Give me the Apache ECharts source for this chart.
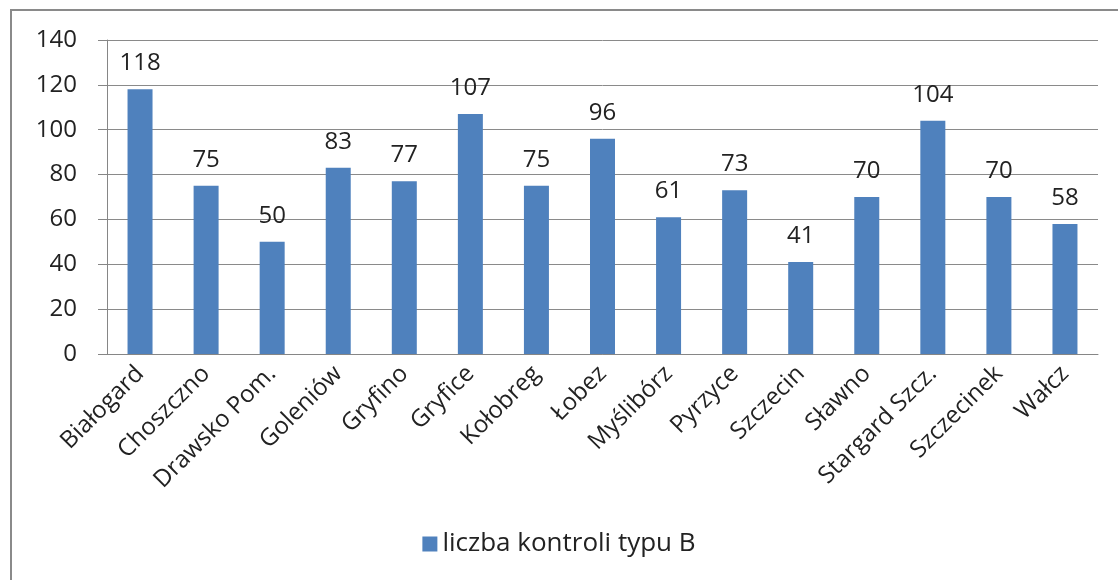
<!DOCTYPE html>
<html>
<head>
<meta charset="utf-8">
<script src="https://cdn.jsdelivr.net/npm/echarts@6/dist/echarts.min.js"></script>
<style>
  html, body { margin: 0; padding: 0; background: #fff; }
  #chart { width: 1118px; height: 580px; }
</style>
</head>
<body>
<div id="chart"></div>
<script>
const categories = ['Białogard', 'Choszczno', 'Drawsko Pom.', 'Goleniów', 'Gryfino', 'Gryfice', 'Kołobreg',
    'Łobez', 'Myślibórz', 'Pyrzyce', 'Szczecin', 'Sławno', 'Stargard Szcz.', 'Szczecinek', 'Wałcz'];
const values = [118, 75, 50, 83, 77, 107, 75, 96, 61, 73, 41, 70, 104, 70, 58];
const seriesName = 'liczba kontroli typu B';
const yTicks = { min: 0, max: 140, interval: 20 };

const font = 'Open Sans';
const chart = echarts.init(document.getElementById('chart'));
chart.setOption({
    animation: false,
    textStyle: { fontFamily: font },
    graphic: [{
        type: 'rect',
        shape: { x: 11, y: 10, width: 1200, height: 700 },
        style: { fill: 'none', stroke: '#8a8a8a', lineWidth: 2 },
        silent: true
    }],
    grid: { left: 107, right: 20, top: 40, bottom: 226 },
    legend: {
        bottom: 18,
        left: 'center',
        icon: 'rect',
        itemWidth: 15,
        itemHeight: 15,
        itemGap: 10,
        textStyle: { fontSize: 26, color: '#222', fontFamily: font }
    },
    xAxis: {
        type: 'category',
        data: categories,
        axisLine: { lineStyle: { color: '#868686' } },
        axisTick: { length: 6, lineStyle: { color: '#868686' } },
        axisLabel: { rotate: 45, fontSize: 24, color: '#222', margin: 16, interval: 0 }
    },
    yAxis: {
        type: 'value',
        min: yTicks.min,
        max: yTicks.max,
        interval: yTicks.interval,
        axisLine: { show: true, lineStyle: { color: '#868686' } },
        axisTick: { show: true, length: 9, lineStyle: { color: '#868686' } },
        axisLabel: { fontSize: 24, color: '#222', margin: 30 },
        splitLine: { lineStyle: { color: '#8a8a8a' } }
    },
    series: [{
        name: seriesName,
        type: 'bar',
        data: values,
        barWidth: 25,
        itemStyle: { color: '#4f81bd' },
        label: { show: true, position: 'top', distance: 14, fontSize: 24, color: '#222' }
    }]
});
</script>
</body>
</html>
